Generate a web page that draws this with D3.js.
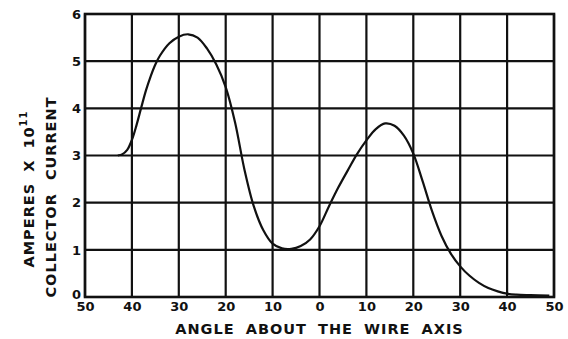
<!DOCTYPE html>
<html>
<head>
<meta charset="utf-8">
<script src="https://cdn.jsdelivr.net/npm/d3@7"></script>
<style>
  body { margin: 0; background: #fff; }
  svg { display: block; }
  text { font-family: "DejaVu Sans", sans-serif; font-weight: bold; fill: #111; }
</style>
</head>
<body>
<div id="chart"></div>
<script>
// angle about the wire axis (left side shown as 50..0, right side 0..50)
const angles = [-43, -42, -41, -40, -39, -38, -37, -36, -35, -34, -32, -30, -28, -26, -24, -22, -20,
  -18, -16, -14, -12, -10, -8, -6, -4, -2, 0, 2, 4, 6, 8, 10, 12, 14, 16, 18, 20,
  22, 24, 26, 28, 30, 32, 34, 36, 38, 40, 42, 45, 49];
const current = [3.0, 3.03, 3.12, 3.33, 3.65, 4.02, 4.38, 4.68, 4.93, 5.12, 5.38, 5.52, 5.57, 5.5, 5.27, 4.93, 4.45,
  3.7, 2.7, 1.92, 1.42, 1.13, 1.03, 1.02, 1.08, 1.22, 1.5, 1.92, 2.32, 2.68, 3.03, 3.32, 3.56, 3.68, 3.63, 3.42, 3.04,
  2.45, 1.82, 1.3, 0.92, 0.65, 0.45, 0.3, 0.19, 0.12, 0.07, 0.05, 0.04, 0.03];
const xTicks = [-50, -40, -30, -20, -10, 0, 10, 20, 30, 40, 50];
const yTicks = [0, 1, 2, 3, 4, 5, 6];

const W = 568, H = 339;
const pxL = 85, pxR = 554, pxT = 14, pxB = 297;

const svg = d3.select('#chart').append('svg')
  .attr('width', W).attr('height', H);

const scX = d3.scaleLinear().domain([-50, 50]).range([pxL, pxR]);
const scY = d3.scaleLinear().domain([0, 6]).range([pxB, pxT]);

// grid
const grid = svg.append('g').attr('stroke', '#111').attr('stroke-width', 2.2);
grid.selectAll('line.v').data(xTicks).enter().append('line')
  .attr('x1', d => scX(d)).attr('x2', d => scX(d))
  .attr('y1', pxT).attr('y2', pxB);
grid.selectAll('line.h').data(yTicks).enter().append('line')
  .attr('x1', pxL).attr('x2', pxR)
  .attr('y1', d => scY(d)).attr('y2', d => scY(d));
grid.append('rect')
  .attr('x', pxL).attr('y', pxT)
  .attr('width', pxR - pxL).attr('height', pxB - pxT)
  .attr('fill', 'none').attr('stroke-width', 2.6);

// axes (labels only)
const xAx = d3.axisBottom(scX).tickValues(xTicks).tickSize(0).tickPadding(0)
  .tickFormat(d => Math.abs(d));
svg.append('g').attr('transform', 'translate(0,' + (pxB + 5) + ')').call(xAx)
  .call(g => g.select('.domain').remove())
  .selectAll('text').attr('dy', '0.71em').style('font-size', '13px').attr('fill', '#111');

const yAx = d3.axisLeft(scY).tickValues(yTicks).tickSize(0).tickPadding(0)
  .tickFormat(d3.format('d'));
svg.append('g').attr('transform', 'translate(' + (pxL - 4) + ',0)').call(yAx)
  .call(g => g.select('.domain').remove())
  .selectAll('text').style('font-size', '13px').attr('fill', '#111')
  .attr('dy', d => d === 0 ? '0.1em' : '0.32em');

// curve
const lnMkr = d3.line().curve(d3.curveCatmullRom.alpha(0.5))
  .x((d, i) => scX(angles[i]))
  .y((d, i) => scY(current[i]));
svg.append('path')
  .attr('d', lnMkr(angles))
  .attr('fill', 'none').attr('stroke', '#111').attr('stroke-width', 2.2);

// titles
svg.append('text')
  .attr('x', scX(0)).attr('y', 334)
  .attr('text-anchor', 'middle')
  .style('font-size', '14.5px').style('letter-spacing', '1px').style('word-spacing', '5px')
  .text('ANGLE ABOUT THE WIRE AXIS');

const yt1 = svg.append('text')
  .attr('transform', 'translate(34,189) rotate(-90)')
  .attr('text-anchor', 'middle')
  .style('font-size', '14.5px').style('letter-spacing', '1px').style('word-spacing', '5px');
yt1.append('tspan').text('AMPERES X 10');
yt1.append('tspan').attr('dy', -7).style('font-size', '10px').text('11');

svg.append('text')
  .attr('transform', 'translate(56,197) rotate(-90)')
  .attr('text-anchor', 'middle')
  .style('font-size', '14.5px').style('letter-spacing', '1px').style('word-spacing', '7px')
  .text('COLLECTOR CURRENT');
</script>
</body>
</html>
